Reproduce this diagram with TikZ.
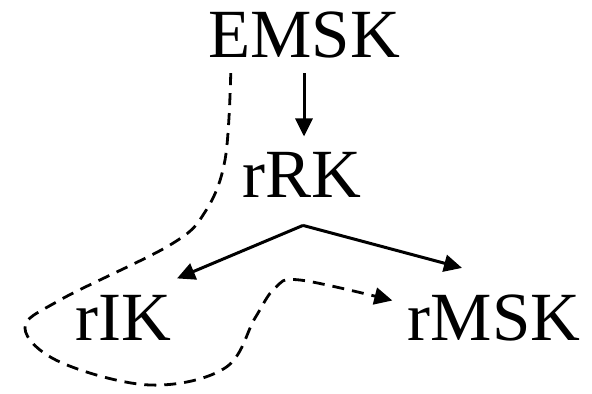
\documentclass[tikz,border=0pt]{standalone}
\usepackage{fontspec}
\setmainfont{Liberation Serif}
\usetikzlibrary{arrows.meta,positioning,calc}
\tikzset{
    term/.style={
        inner sep=7.5pt,
        font=\fontsize{34.5}{40}\selectfont
    },
    arrow/.style={
        -{Triangle[length=9pt,width=8.5pt]},
        line width=1.5pt
    },
    dashedarrow/.style={
        -{Triangle[length=9pt,width=8.5pt]},
        line width=1.4pt,
        dash pattern=on 6pt off 4pt
    }
}

\begin{document}
\begin{tikzpicture}[x=0.5pt,y=0.5pt]
\useasboundingbox (0,0) rectangle (592,393);

\node[term, anchor=base] (emsk) at (304,336) {EMSK};
\node[term, anchor=base] (rrk) at (302,196) {rRK};
\node[term, anchor=base] (rik) at (123,53) {rIK};
\node[term, anchor=base] (rmsk) at (494,53) {rMSK};

\draw[arrow] (emsk.south) -- (emsk.south |- rrk.north);

\coordinate (fork) at ($(rrk.south)+(1,-13)$);
\draw[arrow] (fork) -- ($(rik.north)+(54,1)$);
\draw[arrow] (fork) -- ($(rmsk.north)+(-32,11)$);

\coordinate (dstart) at ($(emsk.south west)+(38,0)$);
\coordinate (dend) at ($(rmsk.west)+(0,17)$);
\draw[dashedarrow] plot[smooth, tension=0.6] coordinates {(dstart) (225,233) (205,181) (170,148) (60,93) (25,65) (60,31) (150,8) (225,25) (255,75) (275,105) (300,113) (dend)};

\end{tikzpicture}
\end{document}
